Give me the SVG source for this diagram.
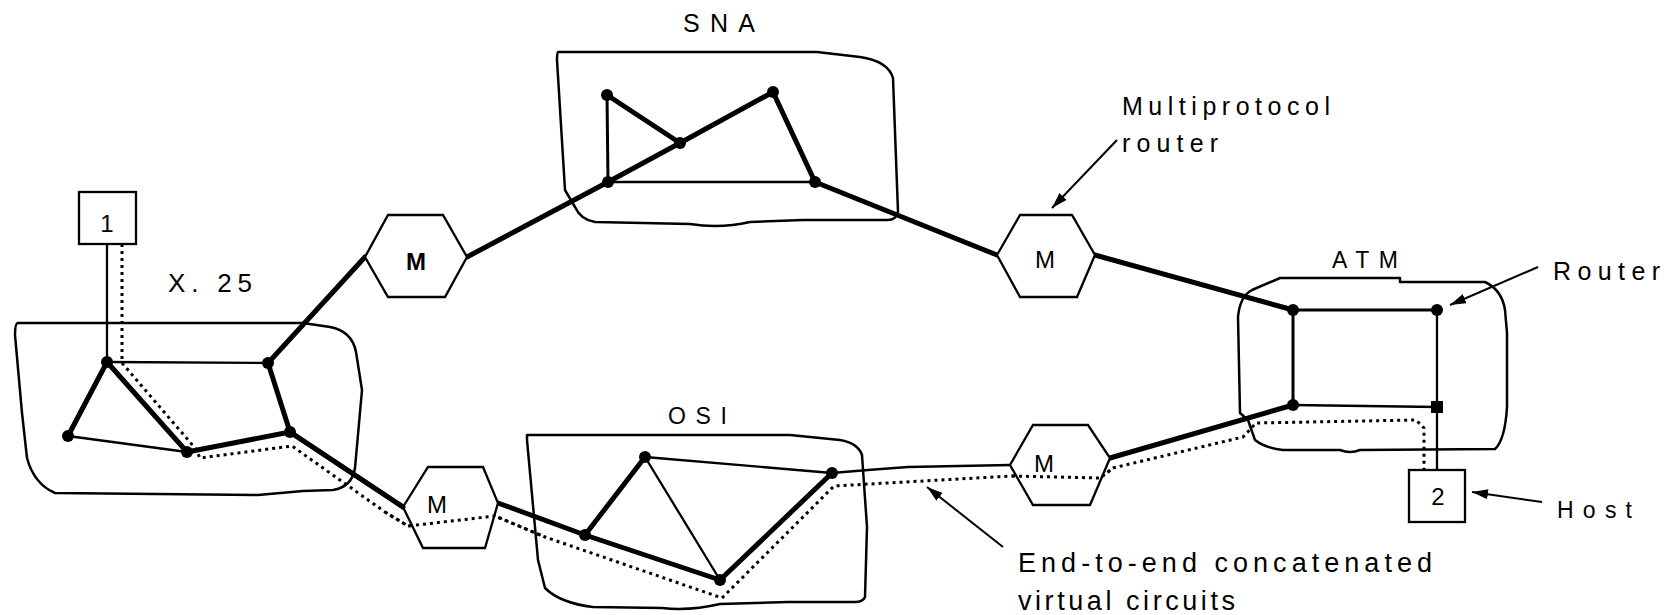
<svg xmlns="http://www.w3.org/2000/svg" width="1671" height="615" viewBox="0 0 1671 615">
<style>
.bg{fill:#fff}
.cloud{fill:none;stroke:#000;stroke-width:2.5;stroke-linejoin:round}
.hex{fill:#fff;stroke:#000;stroke-width:2.3;stroke-linejoin:miter}
.box{fill:#fff;stroke:#000;stroke-width:2.3}
.thick{fill:none;stroke:#000;stroke-width:5;stroke-linecap:round}
.med{fill:none;stroke:#000;stroke-width:3;stroke-linecap:round}
.thin{fill:none;stroke:#000;stroke-width:2.3;stroke-linecap:round}
.dot{fill:none;stroke:#000;stroke-width:3;stroke-dasharray:3 4;stroke-linejoin:round}
.ann{fill:none;stroke:#000;stroke-width:2;marker-end:url(#ah)}
.nd{fill:#000}
.t{font-family:"Liberation Sans",Arial,sans-serif;font-size:25px;fill:#000}
.m{font-family:"Liberation Sans",Arial,sans-serif;font-size:24px;fill:#000;text-anchor:middle}
</style>
<defs>
<marker id="ah" viewBox="0 0 16 10" refX="16" refY="5" markerWidth="16" markerHeight="10" markerUnits="userSpaceOnUse" orient="auto"><path d="M0,0 L16,5 L0,10 z" fill="#000"/></marker>
</defs>
<rect class="bg" x="0" y="0" width="1671" height="615"/>

<g id="net-x25">
<path class="cloud" d="M18,323 L303,323 L330,327 Q352,331 356,352 L362,390 L355,468 Q352,487 333,490 L303,491 L258,495 L55,493 Q34,484 27,458 L22,413 L15,335 Q15,323 18,323 Z"/>
<text class="t" x="168" y="292" textLength="84" lengthAdjust="spacing" style="font-size:26px">X. 25</text>
</g>
<g id="net-sna">
<path class="cloud" d="M558,52 L817,52 L860,57 Q888,61 893,78 L898,212 Q896,220 888,220 L803,220 L750,222 Q720,229 690,224 L595,222 Q581,220 575,207 L565,190 L557,60 Q557,52 558,52 Z"/>
<text class="t" x="683" y="32" textLength="72" lengthAdjust="spacing" style="font-size:25px">SNA</text>
</g>
<g id="net-osi">
<path class="cloud" d="M527,435 L790,435 L840,440 Q858,443 862,455 L867,527 L865,597 Q863,602 855,602 L788,602 L720,604 Q690,611 662,608 L593,607 Q560,603 545,588 L538,560 L527,440 Z"/>
<text class="t" x="668" y="424" textLength="59" lengthAdjust="spacing" style="font-size:23px">OSI</text>
</g>
<g id="net-atm">
<path class="cloud" d="M1280,278 L1400,278 L1400,282 L1485,282 Q1502,290 1505,310 L1507,333 L1507,407 Q1505,440 1495,449 L1360,450 Q1350,454 1340,450 L1283,450 Q1265,448 1255,440 L1248,420 L1240,413 L1238,317 Q1240,296 1252,290 Z"/>
<text class="t" x="1332" y="268" textLength="66" lengthAdjust="spacing" style="font-size:23px">ATM</text>
</g>

<g id="connectors">
<!-- X.25 internal -->
<line class="thin" x1="107" y1="244" x2="107" y2="362"/>
<line class="thick" x1="107" y1="362" x2="68" y2="436"/>
<line class="thick" x1="107" y1="362" x2="187" y2="452"/>
<line class="thin" x1="107" y1="362" x2="268" y2="363"/>
<line class="thin" x1="68" y1="436" x2="187" y2="452"/>
<line class="thick" x1="187" y1="452" x2="290" y2="432"/>
<line class="thick" x1="268" y1="363" x2="290" y2="432"/>
<line class="thick" x1="268" y1="363" x2="365" y2="257"/>
<line class="thick" x1="290" y1="432" x2="403" y2="507"/>
<!-- SNA -->
<polyline class="thick" points="467,257 608,182 680,143 773,92"/>
<line class="thick" x1="607" y1="95" x2="680" y2="143"/>
<line class="med" x1="607" y1="95" x2="608" y2="182"/>
<line class="thin" x1="608" y1="182" x2="815" y2="182"/>
<line class="thick" x1="773" y1="92" x2="815" y2="182"/>
<line class="thick" x1="815" y1="182" x2="997" y2="255"/>
<!-- ATM -->
<line class="thick" x1="1095" y1="255" x2="1293" y2="310"/>
<line class="med" x1="1293" y1="310" x2="1437" y2="310"/>
<line class="med" x1="1293" y1="310" x2="1293" y2="405"/>
<line class="thin" x1="1437" y1="310" x2="1437" y2="470"/>
<line class="thin" x1="1293" y1="405" x2="1437" y2="407"/>
<line class="thick" x1="1110" y1="458" x2="1293" y2="405"/>
<!-- OSI -->
<line class="thick" x1="498" y1="503" x2="585" y2="535"/>
<line class="thick" x1="585" y1="535" x2="645" y2="457"/>
<line class="thick" x1="585" y1="535" x2="720" y2="580"/>
<line class="thick" x1="720" y1="580" x2="832" y2="473"/>
<line class="thin" x1="645" y1="457" x2="720" y2="580"/>
<polyline class="thin" points="645,457 832,473 868,470 908,467 1010,465"/>
<!-- end-to-end virtual circuit -->
<polyline class="dot" points="122,244 122,363 195,448 200,458 292,446 385,512 408,526 495,516 545,537 722,598 834,486 1012,476 1100,478 1113,468 1243,437 1256,423 1416,420 1424,428 1424,470"/>
<!-- annotation arrows -->
<line class="ann" x1="1117" y1="140" x2="1052" y2="208"/>
<line class="ann" x1="1538" y1="267" x2="1450" y2="305"/>
<line class="ann" x1="1542" y1="502" x2="1472" y2="492"/>
<line class="ann" x1="1003" y1="547" x2="927" y2="487"/>
</g>

<g id="x25-nodes">
<circle class="nd" cx="107" cy="362" r="6"/>
<circle class="nd" cx="68" cy="436" r="6"/>
<circle class="nd" cx="187" cy="452" r="6"/>
<circle class="nd" cx="268" cy="363" r="6"/>
<circle class="nd" cx="290" cy="432" r="6"/>
</g>
<g id="sna-nodes">
<circle class="nd" cx="607" cy="95" r="6"/>
<circle class="nd" cx="773" cy="92" r="6"/>
<circle class="nd" cx="680" cy="143" r="6"/>
<circle class="nd" cx="608" cy="182" r="6"/>
<circle class="nd" cx="815" cy="182" r="6"/>
</g>
<g id="osi-nodes">
<circle class="nd" cx="645" cy="457" r="6"/>
<circle class="nd" cx="832" cy="473" r="6"/>
<circle class="nd" cx="585" cy="535" r="6"/>
<circle class="nd" cx="720" cy="580" r="6"/>
</g>
<g id="atm-nodes">
<circle class="nd" cx="1293" cy="310" r="6"/>
<circle class="nd" cx="1437" cy="310" r="6"/>
<circle class="nd" cx="1293" cy="405" r="6"/>
<rect class="nd" x="1431" y="401" width="12" height="12"/>
</g>

<g id="router-m1">
<polygon class="hex" points="365,257 388,215 443,215 467,257 445,297 388,297"/>
<text class="m" x="416" y="270" style="font-weight:bold">M</text>
</g>
<g id="router-m2">
<polygon class="hex" points="997,255 1020,215 1072,215 1095,255 1077,297 1020,297"/>
<text class="m" x="1045" y="268">M</text>
</g>
<g id="router-m3">
<polygon class="hex" points="403,507 428,467 483,467 498,503 485,548 423,548"/>
<text class="m" x="437" y="513">M</text>
</g>
<g id="router-m4">
<polygon class="hex" points="1010,465 1033,425 1088,425 1110,458 1090,505 1033,505"/>
<text class="m" x="1044" y="472">M</text>
</g>
<!-- virtual circuit segments crossing routers -->
<g id="vc-overlay">
<polyline class="dot" points="385,512 408,526 495,516 545,537"/>
<polyline class="dot" points="1012,476 1100,478 1113,468"/>
<line class="thick" x1="290" y1="432" x2="403" y2="507"/>
</g>

<g id="host-1">
<rect class="box" x="79" y="192" width="57" height="52"/>
<text class="m" x="107" y="232">1</text>
</g>
<g id="host-2">
<rect class="box" x="1409" y="470" width="56" height="52"/>
<text class="m" x="1438" y="505">2</text>
</g>

<g id="labels">
<text class="t" x="1122" y="115" textLength="208" lengthAdjust="spacing">Multiprotocol</text>
<text class="t" x="1122" y="152" textLength="96" lengthAdjust="spacing">router</text>
<text class="t" x="1553" y="280" textLength="107" lengthAdjust="spacing">Router</text>
<text class="t" x="1557" y="518" textLength="75" lengthAdjust="spacing" style="font-size:23px">Host</text>
<text class="t" x="1018" y="572" textLength="414" lengthAdjust="spacing" style="font-size:27px">End-to-end concatenated</text>
<text class="t" x="1018" y="610" textLength="217" lengthAdjust="spacing" style="font-size:27px">virtual circuits</text>
</g>
</svg>
